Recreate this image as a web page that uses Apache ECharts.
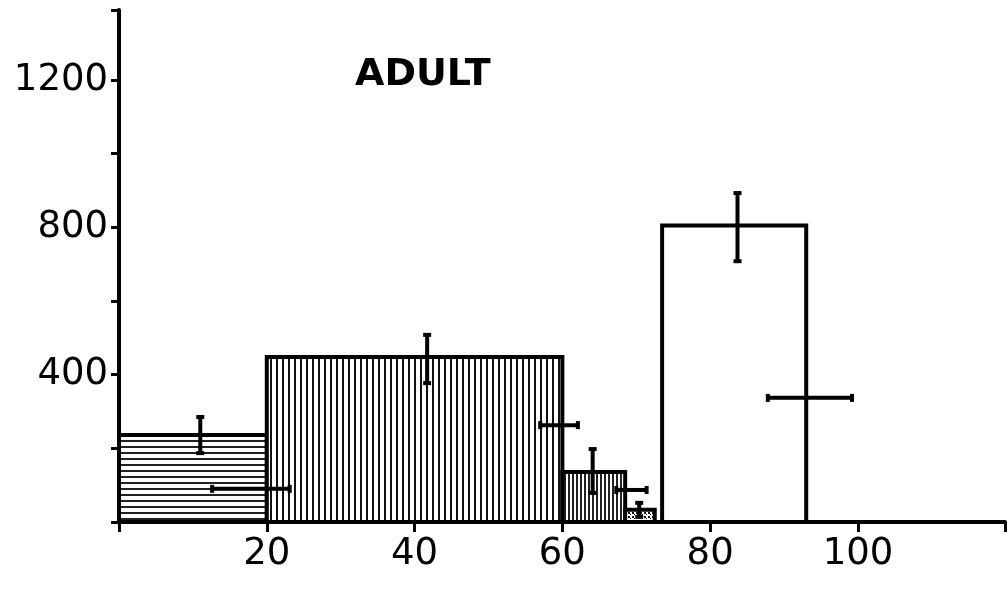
<!DOCTYPE html>
<html>
<head>
<meta charset="utf-8">
<script src="https://cdn.jsdelivr.net/npm/echarts@6/dist/echarts.min.js"></script>
<style>
  html, body, #main { width: 100%; height: 100%; margin: 0; background: #fff; }
</style>
</head>
<body>
<div id="main"></div>
<script>
// histogram blocks: [from, to, height]
var blocks = [[0, 20, 236], [20, 60, 448], [60, 68.5, 136], [68.5, 72.5, 33], [73.5, 93, 805]];
var blockFills = ['hlines', 'vlines', 'vdense', 'dots', 'none'];
// vertical error bars: [x, low, high]
var vErr = [[11, 187, 285], [41.7, 377, 508], [64.1, 79, 198], [70.4, 14, 52], [83.7, 708, 893]];
// horizontal error bars: [y, left, right]
var hErr = [[90, 12.6, 23.1], [263, 57, 62.1], [87, 67.3, 71.4], [337, 87.8, 99.2]];
var xLabels = [20, 40, 60, 80, 100];
var yLabels = [400, 800, 1200];

function makePattern(kind) {
  if (kind === 'none') return '#fff';
  var c = document.createElement('canvas');
  var ctx;
  if (kind === 'hlines') {
    c.width = 8; c.height = 6;
    ctx = c.getContext('2d');
    ctx.fillStyle = '#fff'; ctx.fillRect(0, 0, 8, 6);
    ctx.fillStyle = '#222'; ctx.fillRect(0, 2, 8, 2);
  } else if (kind === 'vlines') {
    c.width = 6; c.height = 6;
    ctx = c.getContext('2d');
    ctx.fillStyle = '#fff'; ctx.fillRect(0, 0, 6, 6);
    ctx.fillStyle = '#111'; ctx.fillRect(0, 0, 2, 6);
  } else if (kind === 'vdense') {
    c.width = 4; c.height = 4;
    ctx = c.getContext('2d');
    ctx.fillStyle = '#fff'; ctx.fillRect(0, 0, 4, 4);
    ctx.fillStyle = '#222'; ctx.fillRect(0, 0, 2, 4);
  } else {
    c.width = 4; c.height = 4;
    ctx = c.getContext('2d');
    ctx.fillStyle = '#fff'; ctx.fillRect(0, 0, 4, 4);
    ctx.fillStyle = '#111'; ctx.fillRect(0, 0, 2, 2); ctx.fillRect(2, 2, 1, 1);
  }
  return { image: c, repeat: 'repeat' };
}

var fonts = '"DejaVu Sans", sans-serif';
var chart = echarts.init(document.getElementById('main'));

chart.setOption({
  animation: false,
  title: {
    text: 'ADULT',
    left: 350,
    top: 51,
    textStyle: { fontSize: 38, fontWeight: 'bold', fontFamily: fonts, color: '#000' }
  },
  grid: { left: 119, right: 0, top: 10, bottom: 87, containLabel: false },
  xAxis: {
    type: 'value',
    min: 0,
    max: 119.9,
    interval: 20,
    splitLine: { show: false },
    axisLine: { lineStyle: { color: '#000', width: 4 } },
    axisTick: { length: 10, lineStyle: { color: '#000', width: 3 } },
    axisLabel: {
      margin: 14,
      fontSize: 37,
      fontFamily: fonts,
      color: '#000',
      formatter: function (v) { return xLabels.indexOf(v) >= 0 ? String(v) : ''; }
    }
  },
  yAxis: {
    type: 'value',
    min: 0,
    max: 1390,
    interval: 200,
    splitLine: { show: false },
    axisLine: { show: true, lineStyle: { color: '#000', width: 4 } },
    axisTick: { show: true, length: 8, lineStyle: { color: '#000', width: 3 } },
    axisLabel: {
      margin: 11,
      fontSize: 37,
      fontFamily: fonts,
      color: '#000',
      formatter: function (v) { return yLabels.indexOf(v) >= 0 ? String(v) : ''; }
    }
  },
  series: [
    {
      type: 'custom',
      data: blocks,
      encode: { x: [0, 1], y: 2 },
      renderItem: function (params, api) {
        var p0 = api.coord([api.value(0), api.value(2)]);
        var p1 = api.coord([api.value(1), 0]);
        return {
          type: 'rect',
          shape: { x: p0[0], y: p0[1], width: p1[0] - p0[0], height: p1[1] - p0[1] },
          style: { fill: makePattern(blockFills[params.dataIndex]), stroke: '#000', lineWidth: 4 }
        };
      }
    },
    {
      type: 'custom',
      data: vErr,
      encode: { x: 0, y: [1, 2] },
      renderItem: function (params, api) {
        var lo = api.coord([api.value(0), api.value(1)]);
        var hi = api.coord([api.value(0), api.value(2)]);
        var st = { stroke: '#000', lineWidth: 4 };
        return {
          type: 'group',
          children: [
            { type: 'line', shape: { x1: lo[0], y1: lo[1], x2: hi[0], y2: hi[1] }, style: st },
            { type: 'line', shape: { x1: lo[0] - 4, y1: lo[1], x2: lo[0] + 4, y2: lo[1] }, style: st },
            { type: 'line', shape: { x1: hi[0] - 4, y1: hi[1], x2: hi[0] + 4, y2: hi[1] }, style: st }
          ]
        };
      }
    },
    {
      type: 'custom',
      data: hErr,
      encode: { x: [1, 2], y: 0 },
      renderItem: function (params, api) {
        var l = api.coord([api.value(1), api.value(0)]);
        var r = api.coord([api.value(2), api.value(0)]);
        var st = { stroke: '#000', lineWidth: 4 };
        return {
          type: 'group',
          children: [
            { type: 'line', shape: { x1: l[0], y1: l[1], x2: r[0], y2: r[1] }, style: st },
            { type: 'line', shape: { x1: l[0], y1: l[1] - 4, x2: l[0], y2: l[1] + 4 }, style: st },
            { type: 'line', shape: { x1: r[0], y1: r[1] - 4, x2: r[0], y2: r[1] + 4 }, style: st }
          ]
        };
      }
    }
  ]
});
</script>
</body>
</html>
